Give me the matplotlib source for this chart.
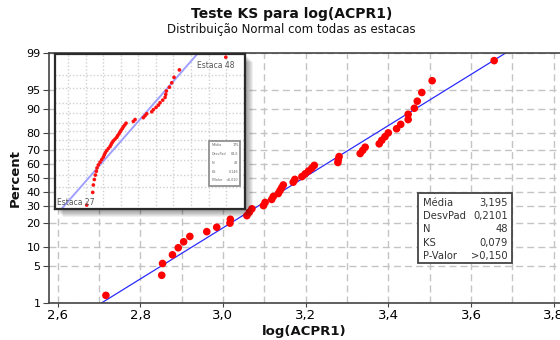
import numpy as np
import matplotlib
matplotlib.use("Agg")
import matplotlib.pyplot as plt
from matplotlib.patches import Rectangle
from matplotlib.ticker import FixedLocator, FuncFormatter, MultipleLocator
from statistics import NormalDist

# ---------------- data ----------------
main_x = [2.717, 2.852, 2.854, 2.878, 2.892, 2.905, 2.920, 2.961, 2.985,
          3.017, 3.018, 3.058, 3.064, 3.070, 3.098, 3.102, 3.118, 3.122,
          3.134, 3.138, 3.142, 3.146, 3.170, 3.174, 3.191, 3.199, 3.207,
          3.215, 3.221, 3.278, 3.279, 3.281, 3.332, 3.338, 3.344, 3.378,
          3.384, 3.392, 3.400, 3.420, 3.430, 3.448, 3.448, 3.463, 3.470,
          3.481, 3.506, 3.656]
main_mean = 3.195
main_sd = 0.2101
stats_labels = ["Média", "DesvPad", "N", "KS", "P-Valor"]
stats_values = ["3,195", "0,2101", "48", "0,079", ">0,150"]

inset_x = [52.5, 69.6, 71.4, 74.2, 77.1, 80.0, 81.9, 85.6, 90.5, 95.3,
           99.9, 102.7, 105.6, 109.6, 114.2, 119.0, 121.9, 124.7, 128.4, 133.3,
           138.1, 140.9, 144.7, 147.5, 150.4, 154.1, 157.0, 161.0, 164.7, 185.5,
           190.4, 214.0, 218.9, 223.7, 238.0, 242.6, 250.3, 257.0, 261.7, 269.3,
           276.0, 277.9, 279.7, 288.3, 295.0, 301.5, 316.8, 449.2]
inset_mean = 175
inset_sd = 84.6
inset_stats_values = ["175", "84,6", "48", "0,146", "<0,010"]

pct_ticks = [1, 5, 10, 20, 30, 40, 50, 60, 70, 80, 90, 95, 99]
x_ticks = [2.6, 2.8, 3.0, 3.2, 3.4, 3.6, 3.8]

# ---------------- helpers ----------------
_nd = NormalDist()
_vinv = np.vectorize(lambda v: _nd.inv_cdf(v / 100.0), otypes=[float])
_vcdf = np.vectorize(lambda v: 100.0 * _nd.cdf(v), otypes=[float])
def fwd(p):
    p = np.clip(np.asarray(p, dtype=float), 1e-6, 100 - 1e-6)
    return _vinv(p)
def inv(z):
    return _vcdf(np.asarray(z, dtype=float))

def plotting_positions(n):
    i = np.arange(1, n + 1)
    return 100.0 * (i - 0.3) / (n + 0.4)

comma = FuncFormatter(lambda v, pos: f"{v:.1f}".replace(".", ","))

plt.rcParams['font.family'] = ['DejaVu Sans']

fig = plt.figure(figsize=(5.6, 3.4), dpi=100)
W, H = 560, 340

# ---------------- main axes ----------------
ax = fig.add_axes([49 / W, 1 - 303 / H, 511 / W, 250 / H])
ax.set_zorder(0)
ax.set_yscale('function', functions=(fwd, inv))
ax.set_ylim(1, 99)
ax.set_xlim(2.5794, 3.8152)

ax.yaxis.set_major_locator(FixedLocator(pct_ticks))
ax.yaxis.set_major_formatter(FuncFormatter(lambda v, pos: f"{v:g}"))
ax.yaxis.set_minor_locator(FixedLocator([]))
ax.xaxis.set_major_locator(FixedLocator(x_ticks))
ax.xaxis.set_major_formatter(comma)
ax.xaxis.set_minor_locator(MultipleLocator(0.1))

ax.grid(True, which='both', axis='x', color='#c4c4c4', linestyle=(0, (5, 3)), linewidth=1.0)
ax.grid(True, which='major', axis='y', color='#c4c4c4', linestyle=(0, (5, 3)), linewidth=1.0)
ax.set_axisbelow(True)

for s in ['top', 'left', 'bottom']:
    ax.spines[s].set_color('#444444')
    ax.spines[s].set_linewidth(1.2)
ax.spines['right'].set_visible(False)
ax.tick_params(axis='y', labelsize=8, length=4, color='#444444', pad=2)
ax.tick_params(axis='x', which='major', labelsize=9.5, length=3, color='#444444', pad=1)
ax.tick_params(axis='x', which='minor', length=0)

# fitted normal line
zline = np.array([-3.0, 3.0])
ax.plot(main_mean + main_sd * zline, inv(zline), color='#2b2bff', linewidth=0.9, zorder=2)
# points
ax.scatter(main_x, plotting_positions(len(main_x)), s=30, color='#ff0000',
           edgecolors='none', zorder=3)

# stats box
ax.add_patch(Rectangle((0.7221, 0.16), 0.184, 0.28, transform=ax.transAxes,
                       facecolor='white', edgecolor='#444444', linewidth=1.3, zorder=4))
row_y = [0.3988, 0.348, 0.2948, 0.2412, 0.188]
for lab, val, yy in zip(stats_labels, stats_values, row_y):
    ax.text(0.7313, yy, lab, transform=ax.transAxes, fontsize=7.2, color='#333333',
            ha='left', va='center', zorder=5)
    ax.text(0.8977, yy, val, transform=ax.transAxes, fontsize=7.2, color='#333333',
            ha='right', va='center', zorder=5)

# ---------------- inset (shadow + axes) ----------------
fl, ft, fr, fb = 55, 54, 245, 209
for k in range(1, 9):
    fig.patches.append(Rectangle(((fl + k) / W, 1 - (fb + k) / H), (fr - fl) / W, (fb - ft) / H,
                                 transform=fig.transFigure, facecolor='black',
                                 alpha=0.06, edgecolor='none', zorder=1))

iax = fig.add_axes([fl / W, 1 - fb / H, (fr - fl) / W, (fb - ft) / H])
iax.set_zorder(2)
iax.set_yscale('function', functions=(fwd, inv))
iax.set_ylim(1.07, 98.87)
iax.set_xlim(-38, 504)
iax.yaxis.set_major_locator(FixedLocator(pct_ticks))
iax.yaxis.set_minor_locator(FixedLocator([]))
iax.xaxis.set_major_locator(MultipleLocator(50))
iax.grid(True, color='#d0d0d0', linestyle=(0, (1, 1.5)), linewidth=1.0)
iax.set_axisbelow(True)
iax.tick_params(left=False, bottom=False, labelleft=False, labelbottom=False)
for s in iax.spines.values():
    s.set_color('#2a2a2a')
    s.set_linewidth(1.6)

iax.plot(inset_mean + inset_sd * zline, inv(zline), color='#a0a0ff', linewidth=1.4, zorder=2)
iax.scatter(inset_x, plotting_positions(len(inset_x)), s=7, color='#ff1010',
            edgecolors='none', zorder=3)
iax.text(0.947, 0.923, "Estaca 48", transform=iax.transAxes, fontsize=5.5,
         color='#555555', ha='right', va='center')
iax.text(0.012, 0.045, "Estaca 27", transform=iax.transAxes, fontsize=5.5,
         color='#555555', ha='left', va='center')
iax.add_patch(Rectangle((0.811, 0.148), 0.163, 0.291, transform=iax.transAxes,
                        facecolor='white', edgecolor='#888888', linewidth=1.2, zorder=4))
irow_y = [0.41, 0.355, 0.298, 0.24, 0.185]
for lab, val, yy in zip(stats_labels, inset_stats_values, irow_y):
    iax.text(0.822, yy, lab, transform=iax.transAxes, fontsize=2.4, color='#666666',
             ha='left', va='center', zorder=5)
    iax.text(0.966, yy, val, transform=iax.transAxes, fontsize=2.4, color='#666666',
             ha='right', va='center', zorder=5)

# ---------------- titles ----------------
fig.text(291.5 / W, 1 - 14 / H, "Teste KS para log(ACPR1)", fontsize=10,
         fontweight='bold', ha='center', va='center', color='#111111')
fig.text(291 / W, 1 - 30 / H, "Distribuição Normal com todas as estacas", fontsize=8.5,
         ha='center', va='center', color='#111111')
fig.text(15 / W, 1 - 178 / H, "Percent", fontsize=9.5, fontweight='bold', rotation=90,
         ha='center', va='center', color='#111111')
fig.text(304 / W, 1 - 331 / H, "log(ACPR1)", fontsize=9.5, fontweight='bold',
         ha='center', va='center', color='#111111')

fig.savefig("out.png", dpi=100)
